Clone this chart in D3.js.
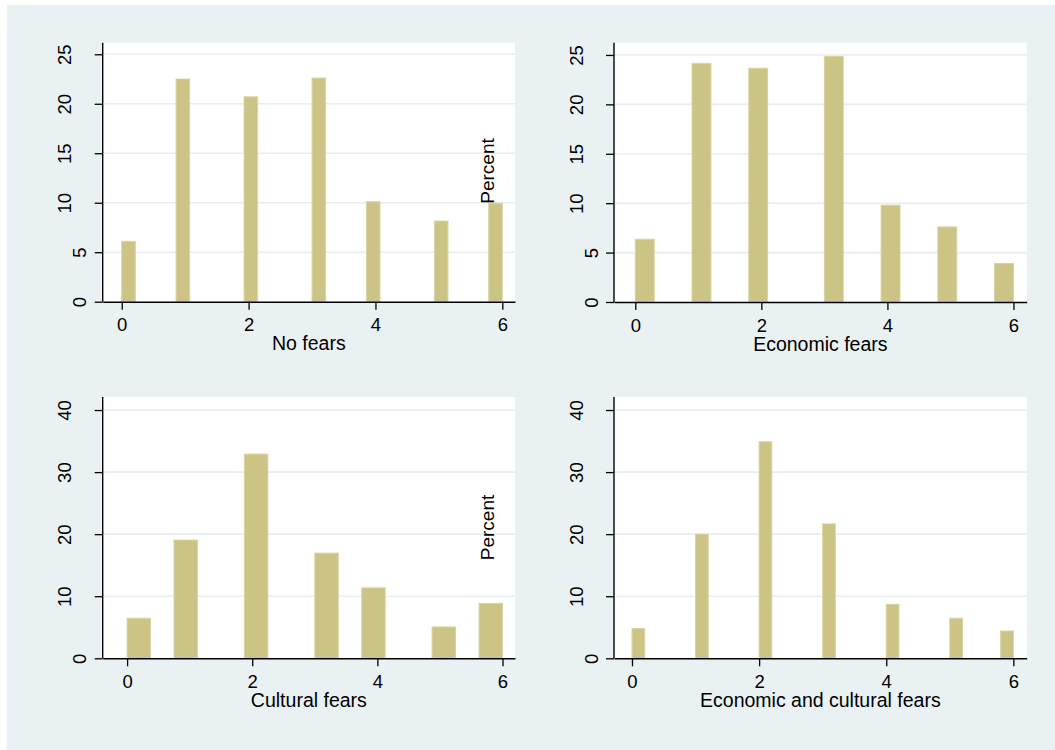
<!DOCTYPE html>
<html>
<head>
<meta charset="utf-8">
<script src="https://cdn.jsdelivr.net/npm/d3@7"></script>
<style>
  html, body { margin: 0; padding: 0; background: #ffffff; }
  svg { display: block; font-family: "Liberation Sans", Arial, sans-serif; }
</style>
</head>
<body>
<svg id="chart" width="1055" height="750"></svg>
<script>
// ---------------- DATA ----------------
const panelTitles = ["No fears", "Economic fears", "Cultural fears", "Economic and cultural fears"];
const xTickValues = [0, 2, 4, 6];
const yTicksTop = [0, 5, 10, 15, 20, 25];
const yTicksBottom = [0, 10, 20, 30, 40];
const yAxisTitle = "Percent";

// histogram bins: lower edges (data units), bin width, and percent heights
const noFearsBinLo = [0, 0.857, 1.929, 3.0, 3.857, 4.929, 5.786];
const noFearsBinWidth = 0.214;
const noFearsPct = [6.1, 22.5, 20.7, 22.6, 10.1, 8.15, 9.95];

const econBinLo = [0, 0.9, 1.8, 3.0, 3.9, 4.8, 5.7];
const econBinWidth = 0.3;
const econPct = [6.35, 24.15, 23.65, 24.85, 9.8, 7.6, 3.9];

const cultBinLo = [0, 0.75, 1.875, 3.0, 3.75, 4.875, 5.625];
const cultBinWidth = 0.375;
const cultPct = [6.45, 19.05, 32.9, 16.95, 11.35, 5.05, 8.85];

const bothBinLo = [0, 1.0, 2.0, 3.0, 4.0, 5.0, 5.8];
const bothBinWidth = 0.2;
const bothPct = [4.8, 20.0, 34.9, 21.65, 8.7, 6.45, 4.4];

// ---------------- LAYOUT ----------------
const layout = [
  { left: 102.7, right: 515,    top: 42.7, bottom: 301.7, xLo: -0.30, xHi: 6.2,  yHi: 26.17, percent: true },
  { left: 614,   right: 1026.7, top: 42.7, bottom: 302,   xLo: -0.338, xHi: 6.21, yHi: 26.24, percent: false },
  { left: 102.7, right: 515,    top: 397,  bottom: 658.3, xLo: -0.39, xHi: 6.2,  yHi: 42.1, percent: true },
  { left: 614,   right: 1026.7, top: 397,  bottom: 658.3, xLo: -0.283, xHi: 6.21, yHi: 42.1, percent: false }
];
const panelData = [
  { lo: noFearsBinLo, w: noFearsBinWidth, pct: noFearsPct, yTicks: yTicksTop },
  { lo: econBinLo, w: econBinWidth, pct: econPct, yTicks: yTicksTop },
  { lo: cultBinLo, w: cultBinWidth, pct: cultPct, yTicks: yTicksBottom },
  { lo: bothBinLo, w: bothBinWidth, pct: bothPct, yTicks: yTicksBottom }
];

const BG = "#EAF1F3";
const GRID = "#E6EEF1";
const BAR = "#CCC484";
const BAR_EDGE = "#D9D3A3";
const fmt = d3.format("d");

const svg = d3.select("#chart");

svg.append("rect").attr("x", 0).attr("y", 0).attr("width", 1055).attr("height", 750).attr("fill", "#ffffff");
svg.append("rect").attr("x", 7).attr("y", 5).attr("width", 1048).attr("height", 745).attr("fill", BG);

layout.forEach((L, i) => {
  const D = panelData[i];
  const g = svg.append("g");
  const x = d3.scaleLinear().domain([L.xLo, L.xHi]).range([L.left, L.right]);
  const y = d3.scaleLinear().domain([0, L.yHi]).range([L.bottom, L.top]);

  // plot region
  g.append("rect")
    .attr("x", L.left).attr("y", L.top)
    .attr("width", L.right - L.left).attr("height", L.bottom - L.top)
    .attr("fill", "#ffffff");

  // grid lines
  g.selectAll("line.grid").data(D.yTicks.filter(t => t > 0)).enter().append("line")
    .attr("class", "grid")
    .attr("x1", L.left).attr("x2", L.right)
    .attr("y1", d => y(d)).attr("y2", d => y(d))
    .attr("stroke", GRID).attr("stroke-width", 1.6);

  // bars
  g.selectAll("rect.bar").data(D.lo.map((lo, k) => ({ lo: lo, hi: lo + D.w, v: D.pct[k] })))
    .enter().append("rect")
    .attr("class", "bar")
    .attr("x", d => x(d.lo))
    .attr("width", d => x(d.hi) - x(d.lo))
    .attr("y", d => y(d.v))
    .attr("height", d => y(0) - y(d.v))
    .attr("fill", BAR)
    .attr("stroke", BAR_EDGE)
    .attr("stroke-width", 1);

  // x axis
  const xAxis = d3.axisBottom(x).tickValues(xTickValues).tickFormat(fmt).tickSize(8).tickSizeOuter(0);
  const gx = g.append("g").attr("transform", `translate(0,${L.bottom})`).call(xAxis);
  gx.select(".domain").attr("stroke", "#000").attr("stroke-width", 1.4);
  gx.selectAll(".tick line").attr("stroke", "#000").attr("stroke-width", 1.3);
  gx.selectAll(".tick text")
    .attr("fill", "#000")
    .attr("font-size", 18.5)
    .attr("dy", null)
    .attr("y", 29.5)
    .style("font-family", "'Liberation Sans', Arial, sans-serif");

  // y axis
  const yAxis = d3.axisLeft(y).tickValues(D.yTicks).tickFormat(fmt).tickSize(8).tickSizeOuter(0);
  const gy = g.append("g").attr("transform", `translate(${L.left},0)`).call(yAxis);
  gy.select(".domain").attr("stroke", "#000").attr("stroke-width", 1.4)
    .attr("d", `M0,${L.bottom}V${L.top}`);
  gy.selectAll(".tick line").attr("stroke", "#000").attr("stroke-width", 1.3);
  gy.selectAll(".tick text")
    .attr("fill", "#000")
    .attr("font-size", 18.5)
    .attr("text-anchor", "middle")
    .attr("dy", null)
    .attr("x", null)
    .attr("transform", d => `translate(${String(d).length > 1 ? -31.5 : -16.5},0) rotate(-90)`)
    .style("font-family", "'Liberation Sans', Arial, sans-serif");

  // x title
  g.append("text")
    .attr("x", (L.left + L.right) / 2)
    .attr("y", L.bottom + 48.5)
    .attr("text-anchor", "middle")
    .attr("font-size", 19.5)
    .attr("fill", "#000")
    .text(panelTitles[i]);

  // stray "Percent" title
  if (L.percent) {
    const cy = i === 0 ? 171 : 527.5;
    g.append("text")
      .attr("transform", `translate(${L.right - 21.5},${cy}) rotate(-90)`)
      .attr("text-anchor", "middle")
      .attr("font-size", 19)
      .attr("fill", "#000")
      .text(yAxisTitle);
  }
});
</script>
</body>
</html>
